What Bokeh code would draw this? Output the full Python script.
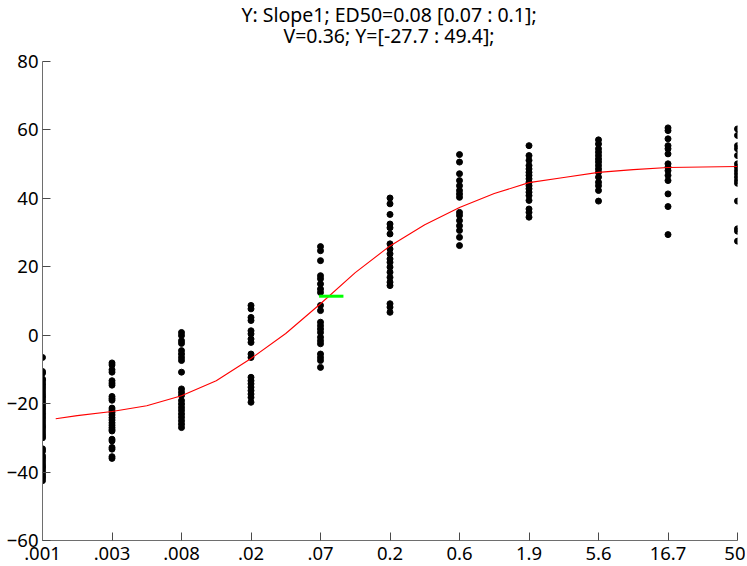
from bokeh.plotting import figure
from bokeh.models import Range1d, FixedTicker, Label, ColumnDataSource
from bokeh.embed import file_html
from bokeh.resources import INLINE

# Dose tick labels (evenly spaced positions 0..10)
dose_labels = [".001", ".003", ".008", ".02", ".07", "0.2", "0.6", "1.9", "5.6", "16.7", "50"]
y_ticks = [-60, -40, -20, 0, 20, 40, 60, 80]

# Observed responses per dose column
y_001 = [-6.5, -10.6, -11.1, -12.8, -13.3, -14.1, -14.7, -15.4, -16.2, -17.0, -17.7, -18.3, -19.1,
         -19.9, -20.6, -21.3, -22.0, -22.8, -23.5, -24.2, -25.0, -25.8, -26.5, -27.1, -27.9, -28.7,
         -29.4, -30.0, -33.2, -33.9, -35.2, -35.9, -36.7, -37.5, -38.2, -38.8, -39.6, -40.4, -41.1,
         -41.7, -42.5]
y_003 = [-8.1, -8.7, -10.1, -10.8, -13.3, -14.0, -14.6, -17.9, -18.5, -19.0, -21.3, -21.9, -22.6,
         -23.3, -24.1, -24.8, -25.6, -26.3, -27.0, -27.6, -28.0, -30.4, -30.9, -32.8, -33.3, -35.5, -36.0]
y_008 = [0.8, -0.1, -1.6, -2.4, -4.5, -5.5, -6.5, -7.4, -10.8, -15.7, -16.7, -17.6, -19.1, -20.1,
         -21.1, -22.0, -23.0, -24.0, -25.0, -26.0, -27.0]
y_02 = [8.7, 7.7, 5.2, 4.3, 1.3, 0.4, -1.1, -2.1, -5.5, -6.5, -12.3, -13.3, -14.2, -15.2, -16.2,
        -17.2, -18.2, -19.6]
y_07 = [25.9, 24.7, 21.8, 17.4, 16.5, 15.0, 13.5, 12.5, 8.7, 7.2, 3.8, 2.8, 1.8, 0.8, -0.6, -1.6,
        -2.5, -5.5, -6.5, -7.4, -9.4]
y_2 = [40.1, 38.4, 35.3, 32.5, 31.4, 29.6, 26.7, 25.2, 23.8, 22.3, 21.3, 19.9, 18.4, 16.9, 15.5,
       14.5, 9.2, 8.2, 6.7]
y_6 = [52.8, 50.6, 47.2, 45.2, 43.7, 42.3, 41.3, 40.3, 35.9, 35.0, 33.5, 32.0, 30.6, 28.6, 26.2]
y_19 = [55.4, 52.5, 51.1, 49.6, 48.6, 47.6, 46.7, 45.7, 44.7, 43.7, 42.8, 41.8, 40.8, 39.4, 36.9,
        35.9, 34.5]
y_56 = [57.1, 55.9, 54.5, 53.5, 52.5, 51.5, 50.6, 49.6, 48.6, 47.6, 46.2, 44.7, 43.7, 42.3, 39.2]
y_167 = [60.6, 59.8, 57.4, 55.4, 54.5, 53.0, 50.1, 49.1, 48.1, 46.7, 45.2, 41.3, 37.6, 29.4]
y_50 = [60.3, 58.4, 55.4, 54.5, 52.5, 50.1, 49.1, 48.1, 47.2, 46.2, 45.2, 44.4, 39.2, 31.1, 30.4, 27.5]

columns = [y_001, y_003, y_008, y_02, y_07, y_2, y_6, y_19, y_56, y_167, y_50]

# Fitted curve (position on dose axis, response)
curve_pos = [0.19, 0.5, 1.0, 1.5, 2.0, 2.5, 3.0, 3.5, 4.0, 4.5, 5.0, 5.5, 6.0, 6.5, 7.0, 7.5, 8.0,
             8.5, 9.0, 10.0]
curve_y = [-24.4, -23.5, -22.3, -20.6, -17.7, -13.3, -6.8, 0.5, 9.2, 18.3, 26.1, 32.3, 37.3, 41.4,
           44.6, 46.1, 47.6, 48.4, 49.0, 49.3]

# ED50 confidence interval marker
ed50_pos = [3.98, 4.33]
ed50_y = [11.4, 11.4]

title1 = "Y: Slope1; ED50=0.08 [0.07 : 0.1];"
title2 = "V=0.36; Y=[-27.7 : 49.4];"

xs, ys = [], []
for i, col in enumerate(columns):
    xs.extend([i] * len(col))
    ys.extend(col)

FONT = "Noto Sans"
W, H = 745, 566
ML, MR, MB = 42, 8, 26
FW, FH = W - ML - MR, H - MB
TOP_PAD = 61  # pixels of frame above the y=80 tick, used for the title lines
y_lo, y_hi = y_ticks[0], y_ticks[-1]
y_top = y_hi + TOP_PAD * (y_hi - y_lo) / (FH - TOP_PAD)

p = figure(width=W, height=H, output_backend="svg", toolbar_location=None,
           x_range=Range1d(0, 10), y_range=Range1d(y_lo, y_top),
           min_border_left=ML, min_border_right=MR, min_border_bottom=MB, min_border_top=0)
p.title.visible = False

p.outline_line_color = None
p.xgrid.visible = False
p.ygrid.visible = False
p.background_fill_color = "white"
p.border_fill_color = "white"

for ax in (p.xaxis, p.yaxis):
    ax.axis_line_color = "#6e6e6e"
    ax.major_tick_line_color = "#4a4a4a"
    ax.minor_tick_line_color = None
    ax.major_tick_in = 8
    ax.major_tick_out = 0
    ax.major_label_text_font = FONT
    ax.major_label_text_font_size = "18.5px"
    ax.major_label_text_color = "black"
    ax.major_label_standoff = 4
p.xaxis.major_label_standoff = 6

p.xaxis.ticker = FixedTicker(ticks=list(range(len(dose_labels))))
p.xaxis.major_label_overrides = {i: lab for i, lab in enumerate(dose_labels)}
p.yaxis.ticker = FixedTicker(ticks=y_ticks)
p.yaxis.bounds = (y_lo, y_hi)

src = ColumnDataSource(dict(x=xs, y=ys))
p.scatter("x", "y", source=src, marker="circle", size=6, fill_color="black", line_color="black")
p.line(curve_pos, curve_y, line_color="red", line_width=1.1)
p.line(ed50_pos, ed50_y, line_color="#00ff00", line_width=3)

for txt, dy in ((title1, 14), (title2, 35)):
    p.add_layout(Label(x=FW / 2 - 1, y=FH - dy, x_units="screen", y_units="screen", text=txt,
                       text_align="center", text_baseline="middle", text_font=FONT,
                       text_font_size="19.5px", text_color="black"))

open("out.html", "w").write(file_html(p, INLINE))
